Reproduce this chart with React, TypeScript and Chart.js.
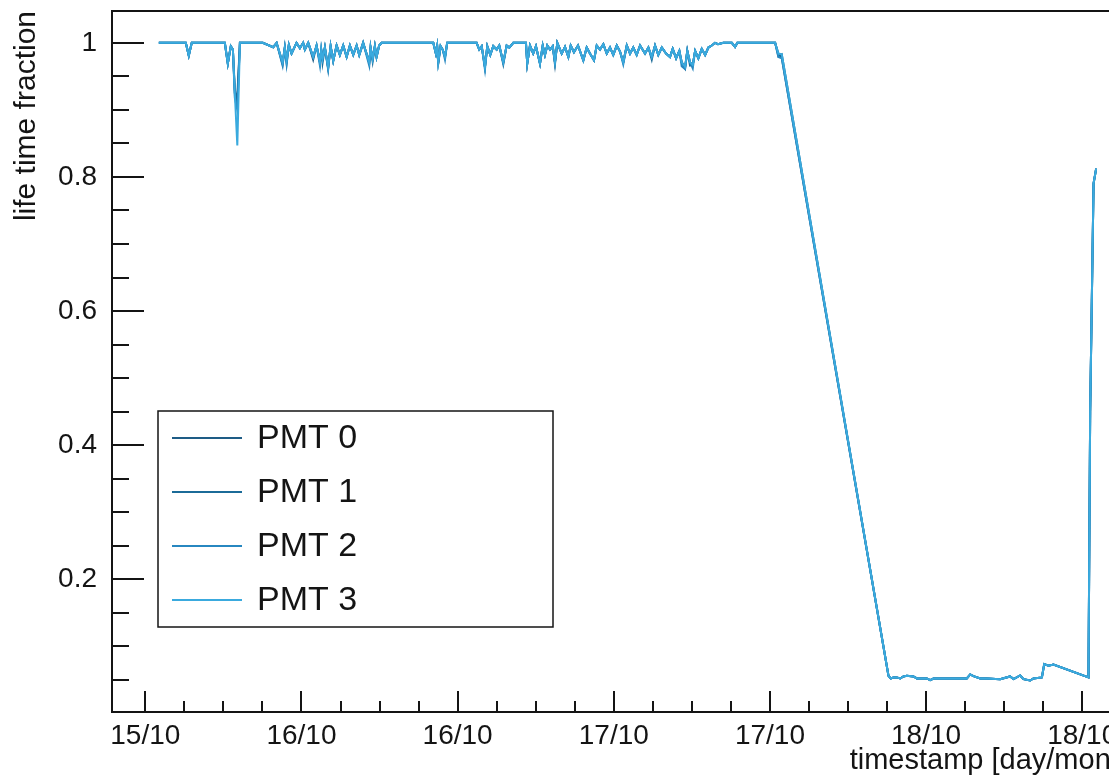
import React, { useEffect, useRef } from "react";
import { Chart, registerables } from "chart.js";
Chart.register(...registerables);

// time axis in hours since 15/10 00:00
const hours = [
  13.04, 15.11, 15.34, 15.57, 18.11, 18.34, 18.57, 18.73, 18.88, 19.07,
  19.27, 21.03, 21.83, 22.09, 22.55, 22.72, 22.86, 23.03, 23.24, 23.62,
  23.88, 24.13, 24.26, 24.52, 24.90, 25.16, 25.42, 25.52, 25.62, 25.80,
  26.05, 26.24, 26.44, 26.70, 26.95, 27.21, 27.47, 27.72, 27.98, 28.24,
  28.44, 28.74, 29.21, 29.31, 29.47, 29.64, 29.77, 29.97, 30.16, 34.13,
  34.33, 34.43, 34.51, 34.69, 34.85, 35.03, 35.20, 37.46, 37.66, 37.85,
  38.10, 38.28, 38.51, 38.74, 39.00, 39.20, 39.51, 39.77, 39.97, 40.28,
  41.25, 41.35, 41.56, 41.81, 42.02, 42.33, 42.54, 42.71, 42.89, 43.10,
  43.31, 43.48, 43.66, 44.00, 44.25, 44.51, 44.69, 44.94, 45.25, 45.66,
  45.92, 46.17, 46.48, 46.69, 46.94, 47.20, 47.46, 47.71, 47.96, 48.23,
  48.48, 48.73, 49.00, 49.25, 49.50, 49.76, 50.02, 50.40, 50.66, 50.92,
  51.17, 51.42, 51.69, 52.02, 52.32, 52.53, 52.79, 53.04, 53.22, 53.48,
  53.65, 53.86, 54.07, 54.25, 54.50, 54.76, 55.02, 55.27, 55.53, 55.78,
  56.01, 56.42, 57.07, 57.32, 57.50, 60.40, 60.65, 60.91, 69.11, 69.29,
  69.49, 69.75, 70.01, 70.26, 70.52, 71.03, 71.29, 72.06, 72.31, 72.57,
  73.85, 75.13, 75.39, 75.64, 76.16, 76.67, 77.69, 78.46, 78.72, 79.23,
  79.49, 80.00, 80.25, 80.90, 81.08, 81.41, 81.79, 84.48, 84.61, 84.87,
  85.07,
];

const pmt0 = [
  1, 1, 0.981, 1, 1, 0.969, 0.995, 0.99, 0.925, 0.92,
  1, 1, 0.9935, 1, 0.968, 0.993, 0.974, 0.997, 0.984, 1,
  0.992, 1, 0.99, 1, 0.975, 0.996, 0.971, 0.99, 0.976, 0.993,
  0.963, 0.995, 0.973, 0.996, 0.982, 0.996, 0.979, 0.996, 0.982, 0.996,
  0.982, 1, 0.971, 0.993, 0.976, 0.995, 0.979, 0.996, 1, 1,
  0.984, 0.995, 0.968, 0.995, 0.99, 0.979, 1, 1, 0.99, 0.995,
  0.964, 0.995, 0.982, 0.995, 0.99, 0.996, 0.971, 0.996, 0.993, 1,
  1, 0.969, 0.996, 0.984, 0.995, 0.969, 0.996, 0.982, 0.996, 0.99,
  0.995, 0.968, 1, 0.984, 0.994, 0.979, 0.996, 0.986, 0.996, 0.974,
  0.993, 0.984, 0.974, 0.996, 0.99, 0.998, 0.984, 0.993, 0.982, 0.996,
  0.987, 0.971, 0.996, 0.984, 0.993, 0.982, 0.996, 0.984, 0.993, 0.979,
  0.996, 0.982, 0.993, 0.984, 0.979, 0.991, 0.977, 0.988, 0.971, 0.962,
  0.988, 0.971, 0.967, 0.988, 0.977, 0.991, 0.982, 0.993, 0.996, 1,
  0.998, 1, 1, 0.994, 1, 1, 0.984, 0.978, 0.056, 0.052,
  0.0536, 0.0536, 0.052, 0.0551, 0.056, 0.0551, 0.052, 0.052, 0.0496, 0.052,
  0.052, 0.052, 0.058, 0.0555, 0.052, 0.052, 0.051, 0.055, 0.051, 0.0565,
  0.051, 0.049, 0.052, 0.0536, 0.0734, 0.071, 0.0727, 0.0536, 0.45, 0.79,
  0.8125,
];

const pmt1 = [
  1, 1, 0.981, 1, 1, 0.969, 0.995, 0.99, 0.93, 0.91,
  1, 1, 0.9935, 1, 0.971, 0.993, 0.97, 0.997, 0.984, 1,
  0.992, 1, 0.99, 1, 0.979, 0.996, 0.971, 0.99, 0.97, 0.993,
  0.962, 0.995, 0.973, 0.996, 0.982, 0.996, 0.979, 0.996, 0.982, 0.996,
  0.982, 1, 0.971, 0.993, 0.972, 0.995, 0.979, 0.996, 1, 1,
  0.984, 0.995, 0.971, 0.995, 0.99, 0.979, 1, 1, 0.99, 0.995,
  0.964, 0.995, 0.982, 0.995, 0.99, 0.996, 0.968, 0.996, 0.993, 1,
  1, 0.969, 0.996, 0.984, 0.995, 0.969, 0.996, 0.982, 0.996, 0.99,
  0.995, 0.971, 1, 0.984, 0.994, 0.979, 0.996, 0.986, 0.996, 0.974,
  0.993, 0.984, 0.974, 0.996, 0.99, 0.998, 0.984, 0.993, 0.982, 0.996,
  0.987, 0.971, 0.996, 0.984, 0.993, 0.982, 0.996, 0.984, 0.993, 0.975,
  0.996, 0.982, 0.993, 0.984, 0.979, 0.991, 0.977, 0.988, 0.971, 0.964,
  0.988, 0.966, 0.967, 0.988, 0.977, 0.991, 0.982, 0.993, 0.996, 1,
  0.998, 1, 1, 0.994, 1, 1, 0.98, 0.983, 0.056, 0.052,
  0.0536, 0.0536, 0.052, 0.0551, 0.056, 0.0551, 0.052, 0.052, 0.0496, 0.052,
  0.052, 0.052, 0.058, 0.0555, 0.052, 0.052, 0.051, 0.055, 0.051, 0.0565,
  0.051, 0.049, 0.052, 0.0536, 0.0734, 0.071, 0.0727, 0.0536, 0.45, 0.79,
  0.8125,
];

const pmt2 = [
  1, 1, 0.981, 1, 1, 0.969, 0.995, 0.99, 0.918, 0.9,
  1, 1, 0.9935, 1, 0.966, 0.993, 0.968, 0.997, 0.984, 1,
  0.992, 1, 0.99, 1, 0.979, 0.996, 0.966, 0.99, 0.976, 0.993,
  0.96, 0.995, 0.973, 0.996, 0.982, 0.996, 0.979, 0.996, 0.982, 0.996,
  0.982, 1, 0.966, 0.993, 0.976, 0.995, 0.979, 0.996, 1, 1,
  0.984, 0.995, 0.971, 0.995, 0.99, 0.975, 1, 1, 0.99, 0.995,
  0.96, 0.995, 0.982, 0.995, 0.99, 0.996, 0.971, 0.996, 0.993, 1,
  1, 0.969, 0.996, 0.984, 0.995, 0.969, 0.996, 0.982, 0.996, 0.99,
  0.995, 0.971, 1, 0.984, 0.994, 0.979, 0.996, 0.986, 0.996, 0.974,
  0.993, 0.984, 0.974, 0.996, 0.99, 0.998, 0.984, 0.993, 0.982, 0.996,
  0.987, 0.968, 0.996, 0.984, 0.993, 0.982, 0.996, 0.984, 0.993, 0.979,
  0.996, 0.982, 0.993, 0.984, 0.979, 0.991, 0.977, 0.988, 0.965, 0.961,
  0.988, 0.971, 0.962, 0.988, 0.977, 0.991, 0.982, 0.993, 0.996, 1,
  0.998, 1, 1, 0.994, 1, 1, 0.979, 0.977, 0.056, 0.052,
  0.0536, 0.0536, 0.052, 0.0551, 0.056, 0.0551, 0.052, 0.052, 0.0496, 0.052,
  0.052, 0.052, 0.058, 0.0555, 0.052, 0.052, 0.051, 0.055, 0.051, 0.0565,
  0.051, 0.049, 0.052, 0.0536, 0.0734, 0.071, 0.0727, 0.0536, 0.45, 0.79,
  0.8125,
];

const pmt3 = [
  1, 1, 0.981, 1, 1, 0.969, 0.995, 0.99, 0.924, 0.847,
  1, 1, 0.9935, 1, 0.971, 0.993, 0.974, 0.997, 0.984, 1,
  0.992, 1, 0.99, 1, 0.979, 0.996, 0.971, 0.99, 0.976, 0.993,
  0.964, 0.995, 0.973, 0.996, 0.982, 0.996, 0.979, 0.996, 0.982, 0.996,
  0.982, 1, 0.971, 0.993, 0.976, 0.995, 0.979, 0.996, 1, 1,
  0.984, 0.995, 0.971, 0.995, 0.99, 0.979, 1, 1, 0.99, 0.995,
  0.964, 0.995, 0.982, 0.995, 0.99, 0.996, 0.971, 0.996, 0.993, 1,
  1, 0.969, 0.996, 0.984, 0.995, 0.969, 0.996, 0.982, 0.996, 0.99,
  0.995, 0.971, 1, 0.984, 0.994, 0.979, 0.996, 0.986, 0.996, 0.974,
  0.993, 0.984, 0.974, 0.996, 0.99, 0.998, 0.984, 0.993, 0.982, 0.996,
  0.987, 0.971, 0.996, 0.984, 0.993, 0.982, 0.996, 0.984, 0.993, 0.979,
  0.996, 0.982, 0.993, 0.984, 0.979, 0.991, 0.977, 0.988, 0.971, 0.964,
  0.988, 0.971, 0.967, 0.988, 0.977, 0.991, 0.982, 0.993, 0.996, 1,
  0.998, 1, 1, 0.994, 1, 1, 0.984, 0.983, 0.056, 0.052,
  0.0536, 0.0536, 0.052, 0.0551, 0.056, 0.0551, 0.052, 0.052, 0.0496, 0.052,
  0.052, 0.052, 0.058, 0.0555, 0.052, 0.052, 0.051, 0.055, 0.051, 0.0565,
  0.051, 0.049, 0.052, 0.0536, 0.0734, 0.071, 0.0727, 0.0536, 0.45, 0.79,
  0.8125,
];

const seriesNames = ["PMT 0", "PMT 1", "PMT 2", "PMT 3"];
const seriesValues = [pmt0, pmt1, pmt2, pmt3];
const seriesColors = ["#1e5c86", "#1b6b98", "#2787c0", "#3aaade"];

const xTickValues = [12, 24, 36, 48, 60, 72, 84];
const xTickLabels = ["15/10", "16/10", "16/10", "17/10", "17/10", "18/10", "18/10"];
const yTickValues = [0.2, 0.4, 0.6, 0.8, 1];
const yTickLabels = ["0.2", "0.4", "0.6", "0.8", "1"];

const X_MIN = 9.44;
const X_MAX = 88.67;
const Y_MIN = 0.002;
const Y_MAX = 1.0475;

const FONT = "'Liberation Sans', Arial, Helvetica, sans-serif";
const INK = "#141414";

const rootFrame = {
  id: "rootFrame",
  afterDraw(chart: any) {
    const { ctx, chartArea: a, scales } = chart;
    const xs = scales.x;
    const ys = scales.y;
    ctx.save();
    ctx.strokeStyle = INK;
    ctx.lineWidth = 2;
    ctx.strokeRect(a.left, a.top, a.right - a.left, a.bottom - a.top);

    // y ticks (inside, from the left axis)
    ctx.beginPath();
    for (let k = 1; k <= 21; k++) {
      const v = k * 0.05;
      if (v < Y_MIN || v > Y_MAX) continue;
      const py = Math.round(ys.getPixelForValue(v));
      const len = k % 4 === 0 ? 32 : 17;
      ctx.moveTo(a.left, py);
      ctx.lineTo(a.left + len, py);
    }
    // x ticks (inside, from the bottom axis)
    for (let h = 0; h <= 96; h += 3) {
      if (h < X_MIN || h > X_MAX) continue;
      const px = Math.round(xs.getPixelForValue(h));
      const len = h % 12 === 0 ? 21 : 11;
      ctx.moveTo(px, a.bottom);
      ctx.lineTo(px, a.bottom - len);
    }
    ctx.stroke();

    // legend box
    const bx = 158, by = 411, bw = 395, bh = 216;
    ctx.fillStyle = "#ffffff";
    ctx.fillRect(bx, by, bw, bh);
    ctx.lineWidth = 1.5;
    ctx.strokeStyle = INK;
    ctx.strokeRect(bx, by, bw, bh);
    const rowH = bh / chart.data.datasets.length;
    const names = chart.data.datasets.map((d: any) => d.label);
    const cols = chart.data.datasets.map((d: any) => d.borderColor);
    ctx.font = `34px ${FONT}`;
    ctx.textBaseline = "middle";
    ctx.textAlign = "left";
    for (let i = 0; i < names.length; i++) {
      const cy = by + rowH * (i + 0.5);
      ctx.strokeStyle = cols[i];
      ctx.lineWidth = 2;
      ctx.beginPath();
      ctx.moveTo(172, Math.round(cy));
      ctx.lineTo(242, Math.round(cy));
      ctx.stroke();
      ctx.fillStyle = INK;
      ctx.fillText(names[i], 257, cy + 1);
    }
    ctx.restore();
  },
};

export default function App() {
  const ref = useRef<HTMLCanvasElement | null>(null);

  useEffect(() => {
    document.body.style.margin = "0";
    document.body.style.background = "#ffffff";
    const canvas = ref.current;
    if (!canvas) return;
    const datasets = seriesNames.map((name, i) => ({
      label: name,
      data: hours.map((h, j) => ({ x: h, y: seriesValues[i][j] })),
      borderColor: seriesColors[i],
      backgroundColor: seriesColors[i],
      borderWidth: 2,
      pointRadius: 0,
      tension: 0,
      fill: false,
      order: seriesNames.length - 1 - i,
    }));
    const chart = new Chart(canvas, {
      type: "line",
      data: { datasets },
      options: {
        responsive: false,
        animation: false,
        devicePixelRatio: 1,
        layout: { padding: { left: 0, right: 17, top: 11, bottom: 0 } },
        plugins: {
          legend: { display: false },
          tooltip: { enabled: false },
        },
        scales: {
          x: {
            type: "linear",
            min: X_MIN,
            max: X_MAX,
            grid: { display: false, drawTicks: false },
            border: { display: false },
            afterBuildTicks: (s: any) => {
              s.ticks = xTickValues.map((v) => ({ value: v }));
            },
            afterFit: (s: any) => {
              s.height = 65;
              s.paddingLeft = 0;
              s.paddingRight = 0;
            },
            ticks: {
              autoSkip: false,
              maxRotation: 0,
              padding: 7,
              color: INK,
              font: { family: FONT, size: 28 },
              callback: (_v: any, idx: number) => xTickLabels[idx],
            },
            title: {
              display: true,
              text: "timestamp [day/month]",
              align: "end",
              color: INK,
              font: { family: FONT, size: 29, lineHeight: 1 },
              padding: { top: 0, bottom: 2 },
            },
          },
          y: {
            type: "linear",
            min: Y_MIN,
            max: Y_MAX,
            grid: { display: false, drawTicks: false },
            border: { display: false },
            afterBuildTicks: (s: any) => {
              s.ticks = yTickValues.map((v) => ({ value: v }));
            },
            afterFit: (s: any) => {
              s.width = 112;
              s.paddingTop = 0;
              s.paddingBottom = 0;
            },
            ticks: {
              autoSkip: false,
              padding: 15,
              color: INK,
              font: { family: FONT, size: 28 },
              callback: (_v: any, idx: number) => yTickLabels[idx],
            },
            title: {
              display: true,
              text: "life time fraction",
              align: "end",
              color: INK,
              font: { family: FONT, size: 30, lineHeight: 1 },
              padding: { top: 12, bottom: 0 },
            },
          },
        },
      },
      plugins: [rootFrame],
    } as any);
    return () => chart.destroy();
  }, []);

  return (
    <div style={{ width: 1109, height: 777, overflow: "hidden", position: "relative", background: "#fff" }}>
      <canvas ref={ref} width={1160} height={777} style={{ display: "block", width: 1160, height: 777 }} />
    </div>
  );
}
